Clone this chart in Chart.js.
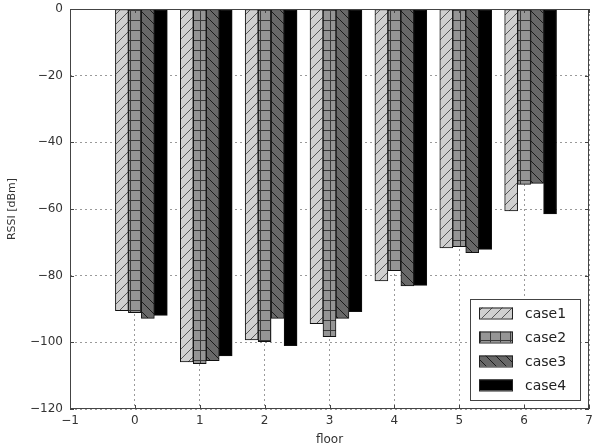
<!DOCTYPE html>
<html>
<head>
<meta charset="utf-8">
<script src="https://cdn.jsdelivr.net/npm/chart.js@4.4.0/dist/chart.umd.min.js"></script>
<style>
    html, body { margin: 0; padding: 0; background: #fff; }
    #wrap { width: 596px; height: 444px; }
</style>
</head>
<body>
<div id="wrap"><canvas id="rssiChart" width="596" height="444"></canvas></div>
<script>
// floors and RSSI readings per case (dBm)
const floors = [0, 1, 2, 3, 4, 5, 6];
const case1 = [-90.5, -105.9, -99.3, -94.4, -81.6, -71.7, -60.6];
const case2 = [-91.1, -106.4, -99.8, -98.3, -78.5, -71.3, -52.6];
const case3 = [-92.8, -105.5, -92.8, -92.8, -83.1, -73.1, -52.3];
const case4 = [-91.9, -104.1, -101.0, -90.8, -82.9, -72.1, -61.5];
const caseNames = ['case1', 'case2', 'case3', 'case4'];
const barOffsets = [-0.2, 0, 0.2, 0.4];   // bar slot within each floor group
const xTicks = [-1, 0, 1, 2, 3, 4, 5, 6, 7];
const yTicks = [-120, -100, -80, -60, -40, -20, 0];

const MINUS = '\u2212';
function fmt(v) {
    return v < 0 ? MINUS + Math.abs(v) : String(v);
}

// hatch patterns like matplotlib's '/', '+', '\'
function makePattern(fill, lineColor, kind) {
    const s = 10;
    const c = document.createElement('canvas');
    c.width = s; c.height = s;
    const g = c.getContext('2d');
    g.fillStyle = fill;
    g.fillRect(0, 0, s, s);
    if (kind) {
        g.strokeStyle = lineColor;
        g.lineWidth = 1;
        g.beginPath();
        if (kind === '/') {
            g.moveTo(-1, s + 1); g.lineTo(s + 1, -1);
            g.moveTo(-1, 1); g.lineTo(1, -1);
            g.moveTo(s - 1, s + 1); g.lineTo(s + 1, s - 1);
        } else if (kind === '\\') {
            g.moveTo(-1, -1); g.lineTo(s + 1, s + 1);
            g.moveTo(s - 1, -1); g.lineTo(s + 1, 1);
            g.moveTo(-1, s - 1); g.lineTo(1, s + 1);
        } else if (kind === '+') {
            g.moveTo(0, 0.5); g.lineTo(s, 0.5);
            g.moveTo(0.5, 0); g.lineTo(0.5, s);
        }
        g.stroke();
    }
    return g.createPattern(c, 'repeat');
}

const fills = [
    makePattern('#cfcfcf', '#555', '/'),
    makePattern('#959595', '#3a3a3a', '+'),
    makePattern('#686868', '#1a1a1a', '\\'),
    '#000000'
];

const seriesValues = [case1, case2, case3, case4];

const datasets = seriesValues.map((vals, k) => ({
    label: caseNames[k],
    data: floors.map((f, i) => ({ x: f + barOffsets[k], y: vals[i] })),
    backgroundColor: fills[k],
    borderColor: '#111',
    borderWidth: 1,
    borderSkipped: false,
    grouped: false,
    categoryPercentage: 1,
    barPercentage: 1
}));

// frame around the plot plus inward ticks (matplotlib look)
const framePlugin = {
    id: 'frame',
    afterDatasetsDraw(chart) {
        const { ctx, chartArea: a, scales } = chart;
        ctx.save();
        ctx.strokeStyle = '#444';
        ctx.lineWidth = 1;
        ctx.strokeRect(a.left + 0.5, a.top + 0.5, a.right - a.left - 1, a.bottom - a.top - 1);
        ctx.beginPath();
        xTicks.forEach(t => {
            const px = Math.round(scales.x.getPixelForValue(t)) + 0.5;
            ctx.moveTo(px, a.bottom); ctx.lineTo(px, a.bottom - 4);
            ctx.moveTo(px, a.top); ctx.lineTo(px, a.top + 4);
        });
        yTicks.forEach(t => {
            const py = Math.round(scales.y.getPixelForValue(t)) + 0.5;
            ctx.moveTo(a.left, py); ctx.lineTo(a.left + 4, py);
            ctx.moveTo(a.right, py); ctx.lineTo(a.right - 4, py);
        });
        ctx.stroke();
        ctx.restore();
    }
};

// legend box in lower right corner of the plot
const legendPlugin = {
    id: 'boxLegend',
    afterDraw(chart) {
        const { ctx, chartArea: a } = chart;
        const boxL = a.right - 108, boxR = a.right - 8;
        const boxT = a.bottom - 110, boxB = a.bottom - 8;
        ctx.save();
        ctx.fillStyle = '#fff';
        ctx.fillRect(boxL - 11, boxT, boxR - boxL + 11, boxB - boxT);
        ctx.strokeStyle = '#444';
        ctx.lineWidth = 1;
        ctx.strokeRect(boxL - 10.5, boxT + 0.5, boxR - boxL + 10, boxB - boxT - 1);
        ctx.font = '14px "DejaVu Sans"';
        ctx.textBaseline = 'middle';
        chart.data.datasets.forEach((ds, k) => {
            const cy = boxT + 14 + k * 24;
            ctx.fillStyle = ds.backgroundColor;
            ctx.fillRect(boxL - 2, cy - 5.5, 34, 11);
            ctx.strokeStyle = '#222';
            ctx.strokeRect(boxL - 1.5, cy - 5, 33, 11);
            ctx.fillStyle = '#222';
            ctx.fillText(ds.label, boxL + 44, cy + 1);
        });
        ctx.restore();
    }
};

new Chart(document.getElementById('rssiChart').getContext('2d'), {
    type: 'bar',
    data: { datasets: datasets },
    options: {
        responsive: false,
        animation: false,
        layout: { padding: { top: 9, right: 7, left: 0, bottom: 0 } },
        plugins: {
            legend: { display: false },
            tooltip: { enabled: false }
        },
        scales: {
            x: {
                type: 'linear',
                min: -1,
                max: 7,
                offset: false,
                afterBuildTicks: s => { s.ticks = xTicks.map(v => ({ value: v })); },
                afterFit: s => { s.height = 35; s.paddingLeft = 0; s.paddingRight = 0; },
                grid: { color: '#9a9a9a', drawTicks: false, lineWidth: 1, offset: false },
                border: { display: false, dash: [2, 3] },
                ticks: {
                    padding: 5,
                    color: '#333',
                    font: { family: 'DejaVu Sans', size: 12 },
                    callback: v => fmt(v)
                },
                title: {
                    display: true,
                    text: 'floor',
                    color: '#333',
                    font: { family: 'DejaVu Sans', size: 12 },
                    padding: { top: 0, bottom: -3 }
                }
            },
            y: {
                min: -120,
                max: 0,
                afterBuildTicks: s => { s.ticks = yTicks.map(v => ({ value: v })); },
                afterFit: s => { s.width = 70; s.paddingTop = 0; s.paddingBottom = 0; },
                grid: { color: '#9a9a9a', drawTicks: false, lineWidth: 1 },
                border: { display: false, dash: [2, 3] },
                ticks: {
                    padding: 7,
                    color: '#333',
                    font: { family: 'DejaVu Sans', size: 12 },
                    callback: v => fmt(v)
                },
                title: {
                    display: true,
                    text: 'RSSI [dBm]',
                    color: '#333',
                    font: { family: 'DejaVu Sans', size: 11 },
                    padding: { top: 6, bottom: 0 }
                }
            }
        }
    },
    plugins: [framePlugin, legendPlugin]
});
</script>
</body>
</html>
